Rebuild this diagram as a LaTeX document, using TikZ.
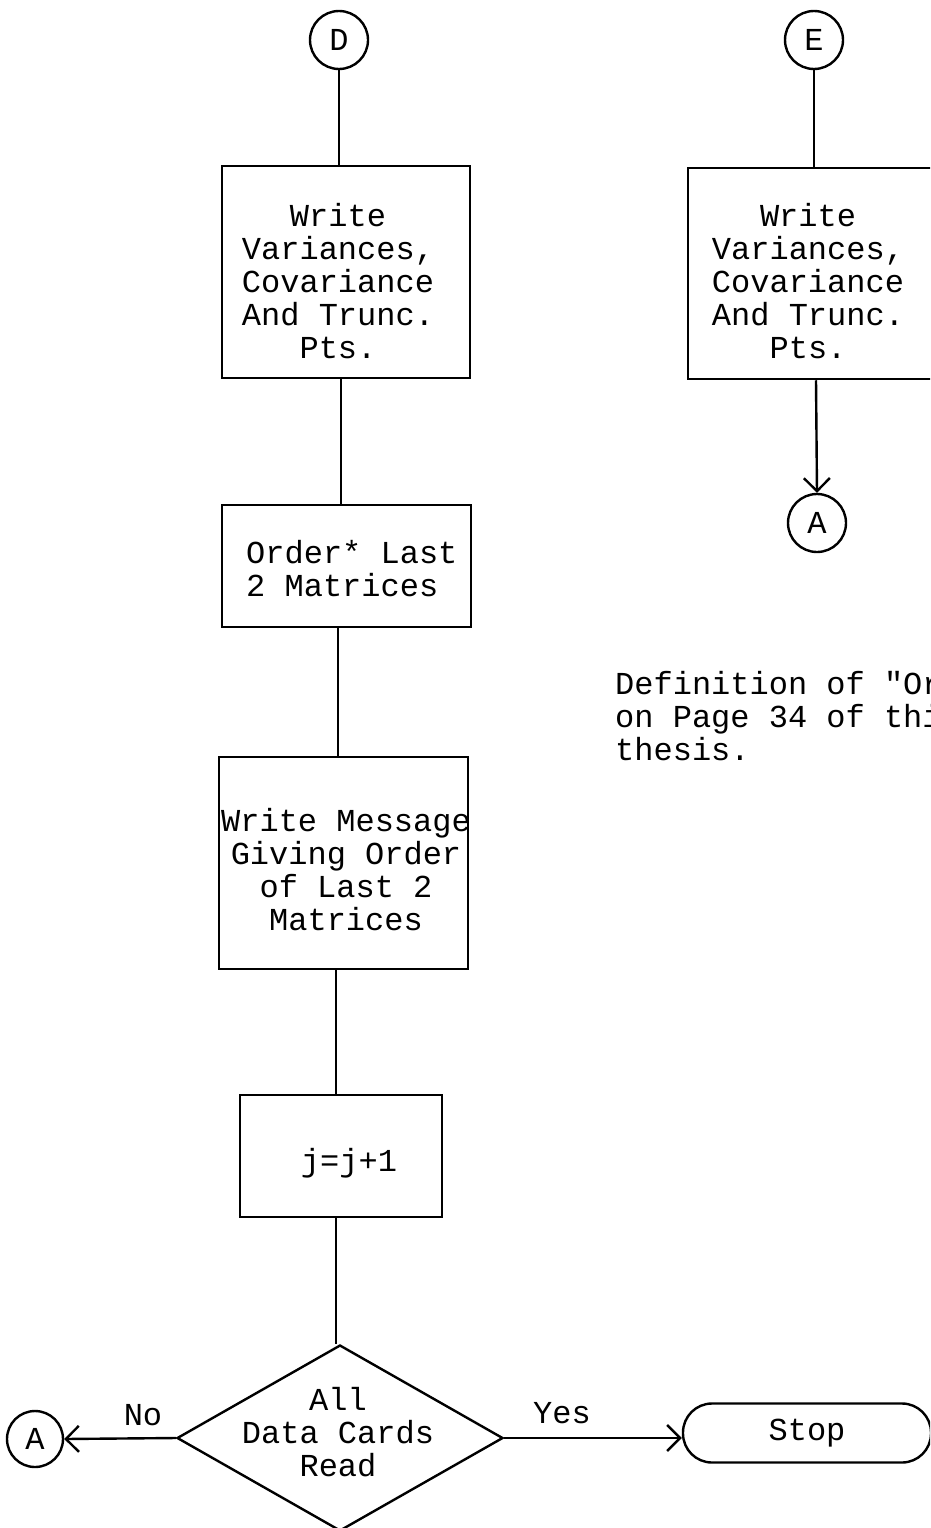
\documentclass[tikz,border=0pt]{standalone}
\usepackage{fontspec}
\newfontfamily\tw{Liberation Mono}
\usetikzlibrary{shapes.geometric,arrows.meta}
\begin{document}
\begin{tikzpicture}[x=1pt,y=-1pt,
  line width=2.4pt,
  every node/.style={font=\tw\fontsize{32}{33}\selectfont, inner sep=0pt},
  box/.style={draw, rectangle, line width=2.5pt},
  conn/.style={draw, circle, minimum size=58pt, line width=2.4pt},
  txt/.style={align=center},
  arr/.style={-{Straight Barb[length=13pt,width=26pt]}},
]
\useasboundingbox (0,0) rectangle (930,1528);
\clip (0,0) rectangle (930,1528);

% left column
\node[conn] (D) at (339,40) {D};
\node[box, minimum width=248pt, minimum height=212pt] (b1) at (346,272) {};
\node[txt] (t1) at (338,281) {Write\\Variances,\\Covariance\\And Trunc.\\Pts.};

\node[box, minimum width=249pt, minimum height=122pt] (b2) at (346.5,566) {};
\node[align=left, anchor=west] (t2) at (245,569) {Order* Last\\2 Matrices};

\node[box, minimum width=249pt, minimum height=212pt] (b3) at (343.5,863) {};
\node[txt] (t3) at (346,870) {Write Message\\Giving Order\\of Last 2\\Matrices};

\node[box, minimum width=202pt, minimum height=122pt] (b4) at (341,1156) {};
\node (t4) at (349,1163) {j=j+1};

\node[draw, diamond, minimum width=326pt, minimum height=186pt, line width=2.4pt] (dm) at (340,1438) {};
\node[txt] (t5) at (338,1432) {All\\Data Cards\\Read};

\node[conn, minimum size=56pt] (A1) at (35,1439) {A};
\node[draw, rectangle, rounded corners=29pt, minimum width=248pt, minimum height=59pt, line width=2.4pt] (stop) at (807,1433) {Stop};

\node (no) at (143,1415) {No};
\node (yes) at (562,1413) {Yes};

% right column
\node[conn] (E) at (814,40) {E};
\node[box, minimum width=248pt, minimum height=211pt] (b5) at (812,273.5) {};
\node[txt] (t6) at (808,281) {Write\\Variances,\\Covariance\\And Trunc.\\Pts.};
\node[conn] (A2) at (817,523) {A};

\node[align=left, anchor=west] (note) at (614,716) {Definition of "Order"\\on Page 34 of this\\thesis.};

% connectors
\draw (D.south) -- (D.south |- b1.north);
\draw ([xshift=-5pt]b1.south) -- ([xshift=-5pt]b1.south |- b2.north);
\draw ([xshift=-8.5pt]b2.south) -- ([xshift=-8.5pt]b2.south |- b3.north);
\draw ([xshift=-7.5pt]b3.south) -- ([xshift=-7.5pt]b3.south |- b4.north);
\draw ([xshift=-5pt]b4.south) -- ([xshift=-5pt]b4.south |- dm.north);
\draw[arr] (dm.west) -- (A1.east);
\draw[arr] (dm.east) -- (dm.east -| stop.west);
\draw (E.south) -- (E.south |- b5.north);
\draw[arr] ([xshift=4pt]b5.south) -- (A2.north);
\end{tikzpicture}
\end{document}
